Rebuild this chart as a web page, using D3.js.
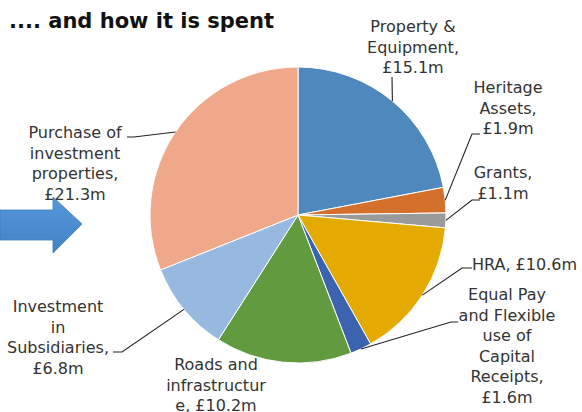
<!DOCTYPE html>
<html>
<head>
<meta charset="utf-8">
<script src="https://cdn.jsdelivr.net/npm/d3@7"></script>
<style>
  html, body { margin: 0; padding: 0; background: #fff; }
  svg { display: block; }
  text { font-family: "DejaVu Sans", Verdana, sans-serif; }
</style>
</head>
<body>
<svg id="chart" width="582" height="412"></svg>
<script>
// Capital spending categories (clockwise from 12 o'clock) and amounts in £m
const categories = [
  "Property & Equipment",
  "Heritage Assets",
  "Grants",
  "HRA",
  "Equal Pay and Flexible use of Capital Receipts",
  "Roads and infrastructure",
  "Investment in Subsidiaries",
  "Purchase of investment properties"
];
const values = [15.1, 1.9, 1.1, 10.6, 1.6, 10.2, 6.8, 21.3];
const colors = ["#4f88bd", "#d4702c", "#9a9a9a", "#e4aa00", "#3c63ad", "#629b3f", "#97b9e0", "#f0a88a"];

// Wrapped label lines; {v} is replaced with the slice value
const labelLines = [
  ["Property &", "Equipment,", "£{v}m"],
  ["Heritage", "Assets,", "£{v}m"],
  ["Grants,", "£{v}m"],
  ["HRA, £{v}m"],
  ["Equal Pay", "and Flexible", "use of", "Capital", "Receipts,", "£{v}m"],
  ["Roads and", "infrastructur", "e, £{v}m"],
  ["Investment", "in", "Subsidiaries,", "£{v}m"],
  ["Purchase of", "investment", "properties,", "£{v}m"]
];

// Label placement: anchor point, text-anchor, and leader elbow points
const labelLayout = [
  { x: 413, y: 32,  anchor: "middle", leader: [[392, 77]] },
  { x: 508, y: 93,  anchor: "middle", leader: [[480, 134], [472, 134]] },
  { x: 503, y: 178, anchor: "middle", leader: [[480, 200], [472, 200]] },
  { x: 472, y: 270, anchor: "start",  leader: [[472, 268], [462, 268]] },
  { x: 507, y: 300, anchor: "middle", leader: [[458, 322], [451, 322]] },
  { x: 216, y: 370, anchor: "middle", leader: null },
  { x: 58,  y: 312, anchor: "middle", leader: [[113, 352], [122, 352]] },
  { x: 75,  y: 138, anchor: "middle", leader: [[127, 137], [134, 137]] }
];

const lineHeight = 20.6;
const cx = 298, cy = 215, radius = 148;

const svg = d3.select("#chart");

// Title
svg.append("text")
  .attr("x", 9).attr("y", 28)
  .attr("font-size", 21).attr("font-weight", "bold")
  .attr("fill", "#111")
  .text(".... and how it is spent");

// Arrow pointing at the pie
const defs = svg.append("defs");
const grad = defs.append("linearGradient")
  .attr("id", "arrowGrad").attr("x1", 0).attr("y1", 0).attr("x2", 0).attr("y2", 1);
grad.append("stop").attr("offset", "0%").attr("stop-color", "#5597da");
grad.append("stop").attr("offset", "100%").attr("stop-color", "#4283c6");

const arrowShape = [[0, 210], [53, 210], [53, 197], [82, 224], [53, 253], [53, 240], [0, 240]];
svg.append("path")
  .attr("d", d3.line()(arrowShape) + "Z")
  .attr("fill", "url(#arrowGrad)")
  .attr("stroke", "#3f7dbd").attr("stroke-width", 0.8);

// Pie
const data = categories.map((c, i) => ({ name: c, value: values[i], i }));
const pie = d3.pie().value(d => d.value).sort(null);
const arcs = pie(data);
const arc = d3.arc().innerRadius(0).outerRadius(radius);

const g = svg.append("g").attr("transform", `translate(${cx},${cy})`);
g.selectAll("path.slice")
  .data(arcs)
  .join("path")
  .attr("class", "slice")
  .attr("d", arc)
  .attr("fill", d => colors[d.data.i])
  .attr("stroke", "#fff")
  .attr("stroke-width", 1);

// Leader lines from label elbows to the slice edge at its mid-angle
const edgePoint = d => {
  const a = (d.startAngle + d.endAngle) / 2;
  return [cx + radius * Math.sin(a), cy - radius * Math.cos(a)];
};
arcs.forEach((d, i) => {
  const lay = labelLayout[i];
  if (!lay.leader) return;
  const pts = lay.leader.concat([edgePoint(d)]);
  svg.append("path")
    .attr("d", d3.line()(pts))
    .attr("fill", "none")
    .attr("stroke", "#222")
    .attr("stroke-width", 1.1);
});

// Labels
arcs.forEach((d, i) => {
  const lay = labelLayout[i];
  const t = svg.append("text")
    .attr("font-size", 16)
    .attr("fill", "#333")
    .attr("text-anchor", lay.anchor);
  labelLines[i].forEach((ln, k) => {
    t.append("tspan")
      .attr("x", lay.x)
      .attr("y", lay.y + k * lineHeight)
      .text(ln.replace("{v}", d.data.value.toFixed(1)));
  });
});
</script>
</body>
</html>
